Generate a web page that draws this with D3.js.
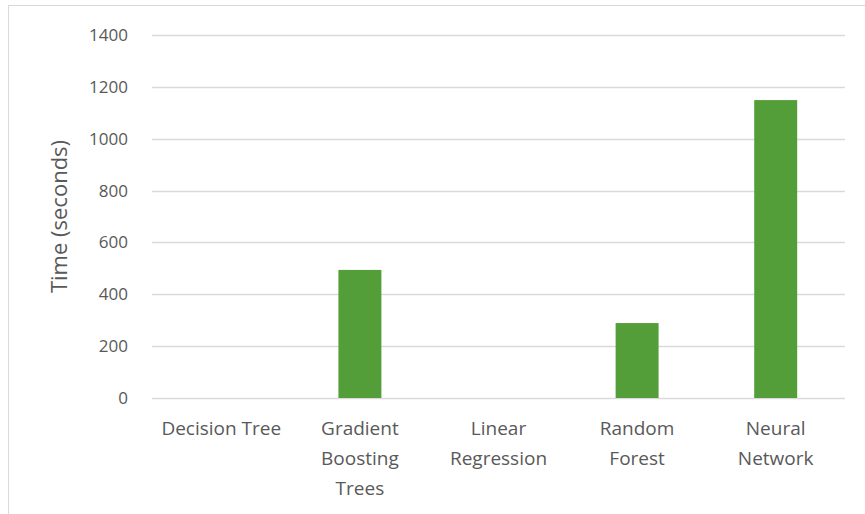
<!DOCTYPE html>
<html>
<head>
<meta charset="utf-8">
<script src="https://cdn.jsdelivr.net/npm/d3@7"></script>
<style>
  html, body { margin: 0; padding: 0; background: #fff; }
  svg { display: block; }
  text { font-family: "Open Sans", sans-serif; fill: #595959; }
</style>
</head>
<body>
<svg id="chart" width="865" height="514"></svg>
<script>
// Training time per model
const categories = [
  ["Decision Tree"],
  ["Gradient", "Boosting", "Trees"],
  ["Linear", "Regression"],
  ["Random", "Forest"],
  ["Neural", "Network"]
];
const values = [0, 494, 0, 289, 1149];
const yTicks = [0, 200, 400, 600, 800, 1000, 1200, 1400];
const yTitle = "Time (seconds)";

const svg = d3.select("#chart");
const W = 865, H = 514;
const margin = { left: 152, right: 20, top: 35, bottom: 116 };

// chart frame
svg.append("rect")
  .attr("x", 8.5).attr("y", 5.5)
  .attr("width", W + 10).attr("height", H + 10)
  .attr("fill", "#fff").attr("stroke", "#d9d9d9").attr("stroke-width", 1);

const x = d3.scaleBand()
  .domain(d3.range(categories.length))
  .range([margin.left, W - margin.right])
  .padding(0);

const y = d3.scaleLinear()
  .domain([0, 1400])
  .range([H - margin.bottom, margin.top]);

// gridlines
svg.append("g")
  .selectAll("line")
  .data(yTicks)
  .join("line")
  .attr("x1", margin.left).attr("x2", W - margin.right)
  .attr("y1", d => Math.round(y(d)) + 0.5).attr("y2", d => Math.round(y(d)) + 0.5)
  .attr("stroke", "#d9d9d9").attr("stroke-width", 1.5);

// y axis labels
const yAxis = d3.axisLeft(y).tickValues(yTicks).tickFormat(d3.format("d")).tickSize(0).tickPadding(0);
const gy = svg.append("g")
  .attr("transform", `translate(${margin.left - 24},0)`)
  .call(yAxis);
gy.select(".domain").remove();
gy.selectAll("text")
  .style("font-size", "17px")
  .style("font-family", "'Open Sans', sans-serif")
  .attr("fill", "#595959");

// bars
const barW = x.bandwidth() * 0.31;
svg.append("g")
  .selectAll("rect")
  .data(values.map((v, i) => ({ v, i })).filter(d => d.v > 0))
  .join("rect")
  .attr("x", d => x(d.i) + (x.bandwidth() - barW) / 2)
  .attr("width", barW)
  .attr("y", d => y(d.v))
  .attr("height", d => y(0) - y(d.v))
  .attr("fill", "#549e39");

// category labels
const cat = svg.append("g")
  .selectAll("text")
  .data(categories)
  .join("text")
  .attr("text-anchor", "middle")
  .attr("x", (d, i) => x(i) + x.bandwidth() / 2)
  .attr("y", H - margin.bottom + 37)
  .style("font-size", "19px");
cat.selectAll("tspan")
  .data(d => d)
  .join("tspan")
  .attr("x", function() { return d3.select(this.parentNode).attr("x"); })
  .attr("dy", (d, i) => i === 0 ? 0 : 30)
  .text(d => d);

// y axis title
svg.append("text")
  .attr("transform", `translate(67,${(y(0) + y(1400)) / 2}) rotate(-90)`)
  .attr("text-anchor", "middle")
  .style("font-size", "22px")
  .text(yTitle);
</script>
</body>
</html>
